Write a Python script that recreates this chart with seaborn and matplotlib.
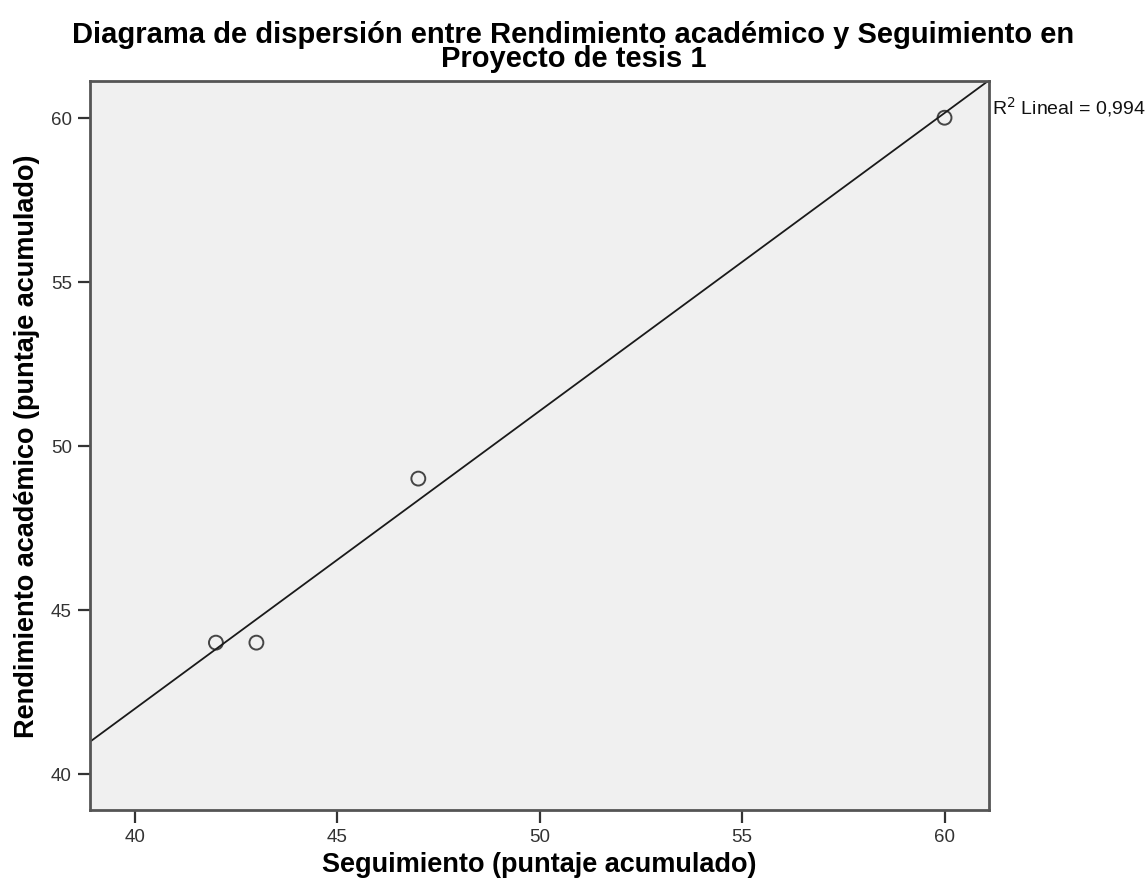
import numpy as np
import pandas as pd
import seaborn as sns
import matplotlib.pyplot as plt

# puntajes acumulados
seguimiento = [42, 43, 47, 60]
rendimiento = [44, 44, 49, 60]
ticks = [40, 45, 50, 55, 60]

df = pd.DataFrame({"Seguimiento": seguimiento, "Rendimiento": rendimiento})

sns.set_style("ticks")
plt.rcParams['font.family'] = ['Liberation Sans', 'DejaVu Sans']

fig = plt.figure(figsize=(11.47, 8.95), dpi=100)
ax = fig.add_axes([0.0785, 0.0939, 0.7838, 0.8145])
ax.set_facecolor("#F0F0F0")
ax.set_xlim(38.89, 61.1)
ax.set_ylim(38.9, 61.12)

sns.regplot(data=df, x="Seguimiento", y="Rendimiento", ax=ax, ci=None, truncate=False,
            scatter_kws=dict(s=100, facecolors="none", edgecolors="#1a1a1a", linewidths=1.4),
            line_kws=dict(color="#1a1a1a", lw=1.3))
ax.set_xlim(38.89, 61.1)
ax.set_ylim(38.9, 61.12)

x = np.array(seguimiento, float)
y = np.array(rendimiento, float)
r2 = np.corrcoef(x, y)[0, 1] ** 2

ax.set_xticks(ticks)
ax.set_yticks(ticks)
ax.tick_params(length=9, width=1.6, color="#333333", labelsize=13.5, labelcolor="#333333", pad=4)
for s in ax.spines.values():
    s.set_color("#555555")
    s.set_linewidth(2)

ax.set_xlabel("Seguimiento (puntaje acumulado)", fontsize=19.5, fontweight="bold", labelpad=4,
              color="black")
ax.set_ylabel("Rendimiento académico (puntaje acumulado)", fontsize=19.5, fontweight="bold",
              labelpad=8, color="black")
fig.suptitle("Diagrama de dispersión entre Rendimiento académico y Seguimiento en\nProyecto de tesis 1",
             fontsize=21, fontweight="bold", y=0.976, linespacing=0.8, color="black")

ax.text(1.003, 0.965, "R$^2$ Lineal = " + f"{r2:.3f}".replace(".", ","), transform=ax.transAxes,
        fontsize=14, ha="left", va="center", color="#111111")

fig.savefig("out.png", dpi=100)
